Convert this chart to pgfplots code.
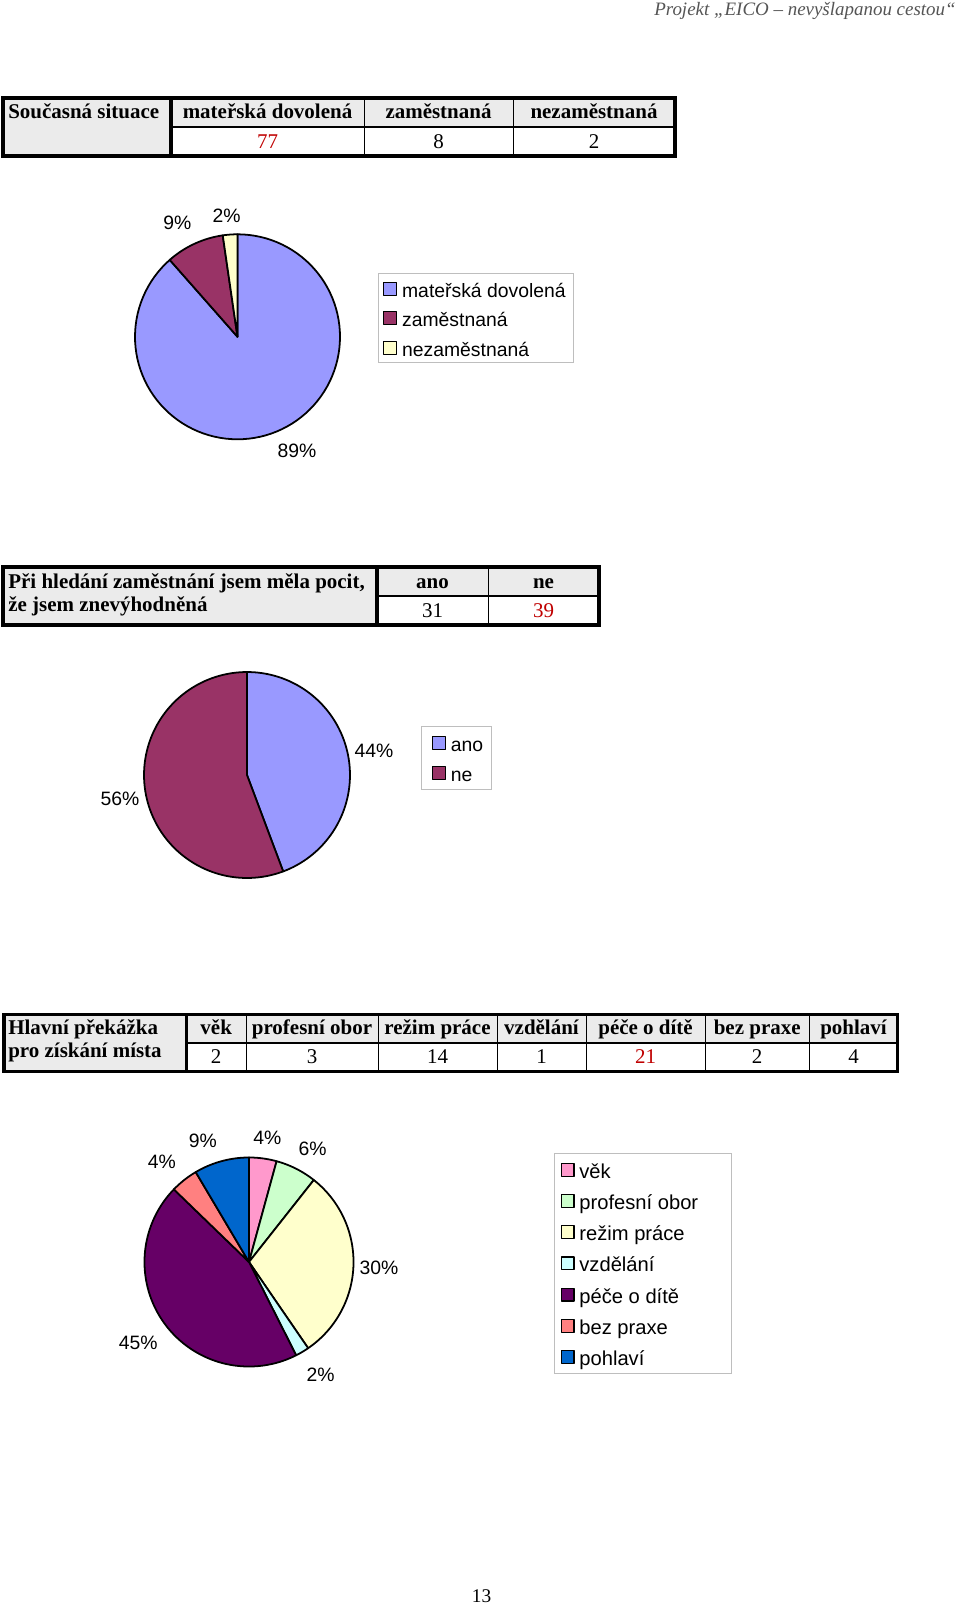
\documentclass[border=0pt]{standalone}
\usepackage{pgfplots}
\pgfplotsset{compat=1.18}
\usepackage{fontspec}
\setmainfont{Liberation Serif}
\newfontfamily\arial{Liberation Sans}

\definecolor{pBlue}{HTML}{9999FF}
\definecolor{pMaroon}{HTML}{993366}
\definecolor{pCream}{HTML}{FFFFCC}
\definecolor{pPink}{HTML}{FF99CC}
\definecolor{pGreen}{HTML}{CCFFCC}
\definecolor{pCyan}{HTML}{CCFFFF}
\definecolor{pPurple}{HTML}{660066}
\definecolor{pSalmon}{HTML}{FF8080}
\definecolor{pNavy}{HTML}{0066CC}
\definecolor{hdrgray}{HTML}{EBEBEB}
\definecolor{valred}{HTML}{C00000}
\definecolor{leggray}{HTML}{BEBEBE}
\definecolor{headgray}{HTML}{555555}

\newcommand\tb{\fontsize{13}{15}\selectfont\bfseries}
\newcommand\tn{\fontsize{13}{15}\selectfont}
\newcommand\lf{\arial\fontsize{12}{14}\selectfont}

\def\splitpair#1/#2\relax{\def\pv{#1}\def\pc{#2}}
% draws pie slices clockwise from 12 o'clock, values/colours from the list
\newcommand{\drawpie}[1]{%
  \def\pietot{0}%
  \pgfplotsforeachungrouped \pieitem in {#1}{%
    \expandafter\splitpair\pieitem\relax
    \pgfmathsetmacro\pietot{\pietot+\pv}}%
  \def\piecum{0}%
  \pgfplotsforeachungrouped \pieitem in {#1}{%
    \expandafter\splitpair\pieitem\relax
    \pgfmathsetmacro\sa{90-\piecum/\pietot*360}%
    \pgfmathsetmacro\piecum{\piecum+\pv}%
    \pgfmathsetmacro\ea{90-\piecum/\pietot*360}%
    \edef\tmp{\noexpand\addplot[fill=\pc, draw=black, line width=1.1pt, line join=round, domain=\ea:\sa, samples=100] ({cos(x)},{sin(x)}) -- (axis cs:0,0) -- cycle;}%
    \tmp}%
}

\pgfplotsset{pieax/.style={
  scale only axis, anchor=center, hide axis, clip=false,
  xmin=-1, xmax=1, ymin=-1, ymax=1,
  legend cell align=left,
  legend style={draw=leggray, line width=0.6pt, font=\lf, anchor=north west,
     inner xsep=3pt, inner ysep=1pt, column sep=1pt,
     nodes={inner sep=2pt, text height=11.5pt, text depth=1pt}},
  legend image code/.code={\draw[##1, line width=0.7pt] (0pt,-4pt) rectangle (8pt,4pt);}
}}
% position in reference pixels (from top left)
\newcommand\pxat[2]{at={({#1*0.62pt},{-#2*0.62pt})}}

\begin{document}
\begin{tikzpicture}[x=0.62pt,y=-0.62pt]
\path[use as bounding box, fill=white] (0,0) rectangle (960,1607);

% page header
\node[anchor=base east, inner sep=0pt, text=headgray, font=\fontsize{11.75}{14}\selectfont\itshape] at (956,15.5) {Projekt „EICO – nevyšlapanou cestou“};

% ---------- table 1
\fill[hdrgray] (3,98) rectangle (675,127);
\fill[hdrgray] (3,127) rectangle (171,156);
\draw[line width=1pt] (171,127) -- (675,127);
\draw[line width=0.6pt] (364,98) -- (364,156) (513,98) -- (513,156);
\draw[line width=1.9pt] (171,98) -- (171,156);
\draw[line width=1.9pt] (3,98) rectangle (675,156);
\begin{scope}[every node/.style={anchor=base, inner sep=0pt}]
\node[anchor=base west, font=\tb] at (8,118.5) {Současná situace};
\node[font=\tb] at (267.5,118.5) {mateřská dovolená};
\node[font=\tb] at (438.5,118.5) {zaměstnaná};
\node[font=\tb] at (594,118.5) {nezaměstnaná};
\node[font=\tn, text=valred] at (267.5,148) {77};
\node[font=\tn] at (438.5,148) {8};
\node[font=\tn] at (594,148) {2};
\end{scope}

% ---------- pie 1
\begin{axis}[pieax, \pxat{237.5}{336.8}, width=127.1pt, height=127.1pt,
  legend style={at={(1.185,0.809)}, row sep=1.8pt},
  legend entries={mateřská dovolená, zaměstnaná, nezaměstnaná}]
\drawpie{77/pBlue,8/pMaroon,2/pCream}
\end{axis}
\node[font=\lf] at (177.3,223.3) {9\%};
\node[font=\lf] at (226.7,216) {2\%};
\node[font=\lf] at (297,451) {89\%};

% ---------- table 2
\fill[hdrgray] (3,567) rectangle (599,596);
\fill[hdrgray] (3,596) rectangle (377,625);
\draw[line width=1pt] (377,596) -- (599,596);
\draw[line width=0.6pt] (488,567) -- (488,625);
\draw[line width=1.9pt] (377,567) -- (377,625);
\draw[line width=1.9pt] (3,567) rectangle (599,625);
\begin{scope}[every node/.style={anchor=base, inner sep=0pt}]
\node[anchor=base west, font=\tb] at (8,588) {Při hledání zaměstnání jsem měla pocit,};
\node[anchor=base west, font=\tb] at (8,611.5) {že jsem znevýhodněná};
\node[font=\tb] at (432.5,588) {ano};
\node[font=\tb] at (543.5,588) {ne};
\node[font=\tn] at (432.5,617) {31};
\node[font=\tn, text=valred] at (543.5,617) {39};
\end{scope}

% ---------- pie 2
\begin{axis}[pieax, \pxat{247}{775}, width=127.7pt, height=127.7pt,
  legend style={at={(1.345,0.738)}, row sep=2.5pt, inner xsep=6.5pt, inner ysep=1.8pt},
  legend entries={\makebox[16.5pt][l]{ano}, ne}]
\drawpie{31/pBlue,39/pMaroon}
\end{axis}
\node[font=\lf] at (374,751) {44\%};
\node[font=\lf] at (120,798.5) {56\%};

% ---------- table 3
\fill[hdrgray] (4,1014.5) rectangle (897.5,1043);
\fill[hdrgray] (4,1043) rectangle (186.5,1071.5);
\draw[line width=1pt] (186.5,1043) -- (897.5,1043);
\draw[line width=0.6pt] (246,1014.5) -- (246,1071.5) (378,1014.5) -- (378,1071.5)
  (497,1014.5) -- (497,1071.5) (586,1014.5) -- (586,1071.5) (705,1014.5) -- (705,1071.5)
  (809.5,1014.5) -- (809.5,1071.5);
\draw[line width=1.9pt] (186.5,1014.5) -- (186.5,1071.5);
\draw[line width=1.9pt] (4,1014.5) rectangle (897.5,1071.5);
\begin{scope}[every node/.style={anchor=base, inner sep=0pt}]
\node[anchor=base west, font=\tb] at (8,1034) {Hlavní překážka};
\node[anchor=base west, font=\tb] at (8,1057.5) {pro získání místa};
\node[font=\tb] at (216.2,1034) {věk};
\node[font=\tb] at (312,1034) {profesní obor};
\node[font=\tb] at (437.5,1034) {režim práce};
\node[font=\tb] at (541.5,1034) {vzdělání};
\node[font=\tb] at (645.5,1034) {péče o dítě};
\node[font=\tb] at (757.2,1034) {bez praxe};
\node[font=\tb] at (853.5,1034) {pohlaví};
\node[font=\tn] at (216.2,1063) {2};
\node[font=\tn] at (312,1063) {3};
\node[font=\tn] at (437.5,1063) {14};
\node[font=\tn] at (541.5,1063) {1};
\node[font=\tn, text=valred] at (645.5,1063) {21};
\node[font=\tn] at (757.2,1063) {2};
\node[font=\tn] at (853.5,1063) {4};
\end{scope}

% ---------- pie 3
\begin{axis}[pieax, \pxat{249}{1262}, width=129.6pt, height=129.6pt,
  legend style={at={(1.961,1.0215)}, row sep=2.8pt, inner xsep=3.5pt, inner ysep=2pt,
    font=\arial\fontsize{12.5}{14}\selectfont},
  legend entries={\makebox[88.7pt][l]{věk}, profesní obor, režim práce, vzdělání, péče o dítě, bez praxe, pohlaví}]
\drawpie{2/pPink,3/pGreen,14/pCream,1/pCyan,21/pPurple,2/pSalmon,4/pNavy}
\end{axis}
\node[font=\lf] at (267.4,1138.3) {4\%};
\node[font=\lf] at (312.5,1148.5) {6\%};
\node[font=\lf] at (379,1268.3) {30\%};
\node[font=\lf] at (320.7,1375) {2\%};
\node[font=\lf] at (138.3,1343) {45\%};
\node[font=\lf] at (161.9,1161.8) {4\%};
\node[font=\lf] at (202.9,1141.3) {9\%};

% page number
\node[font=\fontsize{12}{14}\selectfont] at (481.5,1596) {13};
\end{tikzpicture}
\end{document}
